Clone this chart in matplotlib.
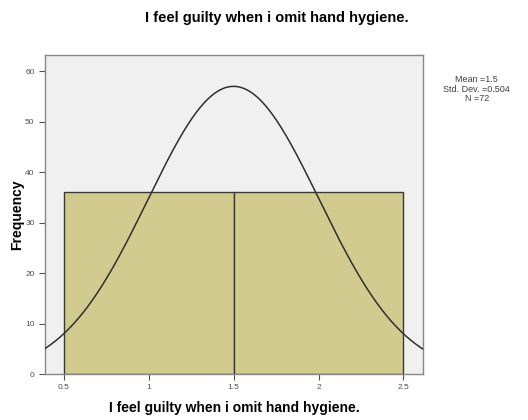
import numpy as np
import matplotlib
matplotlib.use("Agg")
import matplotlib.pyplot as plt

plt.rcParams['font.family'] = ['Liberation Sans', 'DejaVu Sans']

# Histogram data: bin edges and counts
bin_edges = [0.5, 1.5, 2.5]
counts = [36, 36]
mean_val = 1.5
std_val = 0.504
n_val = 72

x_ticks = [0.5, 1, 1.5, 2, 2.5]
x_tick_labels = ["0.5", "1", "1.5", "2", "2.5"]
y_ticks = [0, 10, 20, 30, 40, 50, 60]

title = "I feel guilty when i omit hand hygiene."
x_label = "I feel guilty when i omit hand hygiene."
y_label = "Frequency"

fig = plt.figure(figsize=(5.28, 4.2), dpi=100)
ax = fig.add_axes([0.0852, 0.1095, 0.716, 0.7595])
ax.set_facecolor("#f0f0f0")

lefts = bin_edges[:-1]
widths = np.diff(bin_edges)
ax.bar(lefts, counts, width=widths, align="edge", color="#d1cb90",
       edgecolor="#3a3a30", linewidth=1.0, zorder=2)

# Normal curve scaled to the histogram
xlim = (0.39, 2.615)
xs = np.linspace(xlim[0], xlim[1], 400)
bw = widths[0]
ys = n_val * bw / (std_val * np.sqrt(2 * np.pi)) * np.exp(-0.5 * ((xs - mean_val) / std_val) ** 2)
ax.plot(xs, ys, color="#303030", linewidth=1.1, zorder=3)

ax.set_xlim(*xlim)
ax.set_ylim(0, 63.2)
ax.set_xticks(x_ticks)
ax.set_xticklabels(x_tick_labels)
ax.set_yticks(y_ticks)
ax.tick_params(axis="both", labelsize=6, colors="#505050", length=4, width=0.8)

for s in ax.spines.values():
    s.set_color("#888888")
    s.set_linewidth(1.0)

ax.set_xlabel(x_label, fontsize=10, fontweight="bold", labelpad=7)
ax.set_ylabel(y_label, fontsize=10, fontweight="bold", labelpad=1)
fig.text(0.525, 0.957, title, ha="center", va="center", fontsize=10.5, fontweight="bold")

fig.text(0.903, 0.788, f"Mean ={mean_val:g}\nStd. Dev. ={std_val:.3f}\nN ={n_val}",
         ha="center", va="center", fontsize=6.5, color="#404040", linespacing=1.05)

fig.savefig("out.png", dpi=100)
